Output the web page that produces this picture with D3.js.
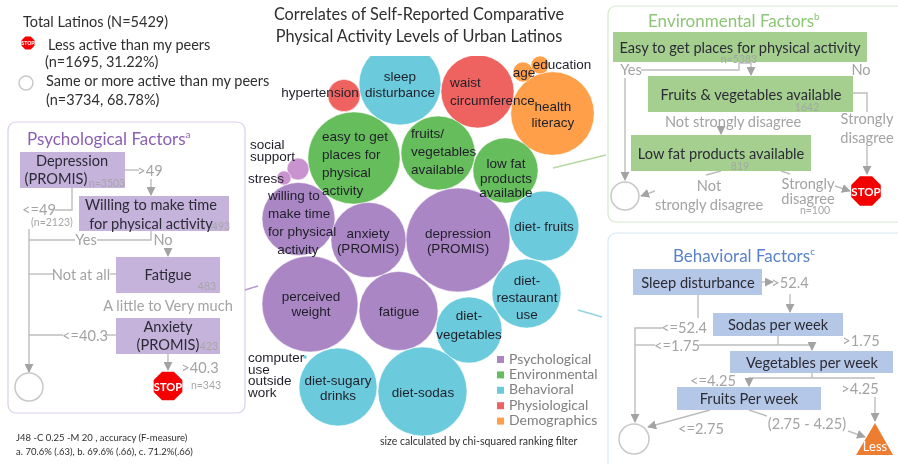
<!DOCTYPE html>
<html>
<head>
<meta charset="utf-8">
<script src="https://cdn.jsdelivr.net/npm/d3@7"></script>
<style>
  html, body { margin: 0; padding: 0; background: #fff; overflow: hidden; }
  svg { display: block; filter: blur(0.35px); }
  text { font-family: Lato, "Open Sans", sans-serif; }
  .bubble-label { font-family: "Liberation Sans", Arial, sans-serif; font-size: 13.5px; fill: #1f1f29; }
  .plain { fill: #2f2f2f; }
  .edge-label { fill: #a3a3a3; font-size: 14.6px; }
  .count { fill: #a6a6a6; font-size: 10.5px; }
  .box-label { fill: #2b2b35; font-size: 14.6px; }
</style>
</head>
<body>
<div id="chart"></div>
<script>
// Bubble values, size (chi-squared rank)
var bubbleNames = ['sleep disturbance', 'hypertension', 'waist circumference', 'health literacy', 'age', 'education',
  'easy to get places for physical activity', 'fruits/ vegetables available', 'low fat products available',
  'social support', 'stress', 'willing to make time for physical activity', 'anxiety (PROMIS)', 'depression (PROMIS)',
  'diet- fruits', 'perceived weight', 'fatigue', 'diet- vegetables', 'diet- restaurant use', 'diet-sugary drinks',
  'diet-sodas', 'computer use outside work']
var bubbleGroups = ['Behavioral', 'Physiological', 'Physiological', 'Demographics', 'Demographics', 'Demographics',
  'Environmental', 'Environmental', 'Environmental',
  'Social', 'Social', 'Psychological', 'Psychological', 'Psychological',
  'Behavioral', 'Psychological', 'Psychological', 'Behavioral', 'Behavioral', 'Behavioral',
  'Behavioral', 'Behavioral']
var bubbleValues = [168, 26, 133, 174, 10, 8, 212, 137, 106, 12, 5, 133, 141, 270, 122, 230, 156, 109, 119, 152, 198, 0.4]

var legendLabels = ['Psychological', 'Environmental', 'Behavioral', 'Physiological', 'Demographics']
var legendColors = ['#ab86c5', '#66bd5c', '#6bcbdc', '#ee635f', '#ff9f4a']

var titleLines = ['Correlates of Self-Reported Comparative', 'Physical Activity Levels of Urban Latinos']
var accuracyLines = ['J48  -C 0.25  -M 20 ,  accuracy (F-measure)', 'a. 70.6% (.63), b. 69.6% (.66), c. 71.2%(.66)']

// Bubble placement has no axis behind it, so it is read off the picture: [cx, cy]
var bubbleCentres = [[400, 84], [344, 95.5], [477.5, 91.5], [552.5, 113.5], [523, 72], [540, 65],
  [354, 158], [438, 153], [505.5, 170.5],
  [298, 169], [284, 178], [298.5, 219], [368.5, 240], [458, 240],
  [544, 226], [310, 304], [398.5, 311], [469, 330], [526.5, 293.5], [338, 387],
  [422.5, 391.5], [305, 357]]

// Label placement: lines, x, first baseline, step, anchor
var bubbleLabels = [
  { lines: ['sleep', 'disturbance'], x: 400, y: 81, step: 15.5 },
  { lines: ['hypertension'], x: 320, y: 97 },
  { lines: ['waist', 'circumference'], x: 450, y: 87, step: 18, anchor: 'start' },
  { lines: ['health', 'literacy'], x: 553, y: 111, step: 15.5 },
  { lines: ['age'], x: 524, y: 77 },
  { lines: ['education'], x: 562, y: 69 },
  { lines: ['easy to get', 'places for', 'physical', 'activity'], x: 322, y: 141, step: 18, anchor: 'start' },
  { lines: ['fruits/', 'vegetables', 'available'], x: 411, y: 138, step: 18, anchor: 'start' },
  { lines: ['low fat', 'products', 'available'], x: 506, y: 168, step: 14.5 },
  { lines: ['social', 'support'], x: 250, y: 149, step: 12, anchor: 'start' },
  { lines: ['stress'], x: 248, y: 183, anchor: 'start' },
  { lines: ['willing to', 'make time', 'for physical'], x: 268, y: 200, step: 18, anchor: 'start' },
  { lines: ['activity'], x: 298, y: 254 },
  { lines: ['anxiety', '(PROMIS)'], x: 368, y: 238, step: 15 },
  { lines: ['depression', '(PROMIS)'], x: 458, y: 238, step: 15 },
  { lines: ['diet- fruits'], x: 544, y: 231 },
  { lines: ['perceived', 'weight'], x: 311, y: 301, step: 15 },
  { lines: ['fatigue'], x: 399, y: 316 },
  { lines: ['diet-', 'vegetables'], x: 469, y: 320, step: 19 },
  { lines: ['diet-', 'restaurant', 'use'], x: 527, y: 285, step: 17 },
  { lines: ['diet-sugary', 'drinks'], x: 338, y: 385, step: 15 },
  { lines: ['diet-sodas'], x: 423, y: 397 },
  { lines: ['computer', 'use', 'outside', 'work'], x: 248, y: 362, step: 11.5, anchor: 'start' }
]

var groupColors = d3.scaleOrdinal()
  .domain(legendLabels.concat(['Social']))
  .range(legendColors.concat(['#c993d0']))

var radius = d3.scaleSqrt().domain([0, 1000]).range([0, 100])

// Decision trees
var panels = [
  { x: 8, y: 122, w: 237, h: 291, stroke: '#dccdea' },
  { x: 608, y: 6, w: 300, h: 216, stroke: '#d6e8cc' },
  { x: 608, y: 233, w: 300, h: 240, stroke: '#d6e9f5' }
]
var panelTitles = [
  { text: 'Psychological Factors', sup: 'a', x: 27, y: 145, fill: '#8a5fb5' },
  { text: 'Environmental Factors', sup: 'b', x: 648, y: 27, fill: '#8cc674' },
  { text: 'Behavioral Factors', sup: 'c', x: 673, y: 262, fill: '#5a82c8' }
]
var boxes = [
  { x: 20, y: 152, w: 105, h: 36, fill: '#c5b3dc', lines: ['Depression', '(PROMIS)'], tx: [72, 56], ty: [166, 184] },
  { x: 79, y: 196, w: 150, h: 35, fill: '#c5b3dc', lines: ['Willing to make time', 'for physical activity'], tx: [151, 151], ty: [210, 229] },
  { x: 116, y: 257, w: 104, h: 36, fill: '#c5b3dc', lines: ['Fatigue'], tx: [168], ty: [280] },
  { x: 116, y: 318, w: 104, h: 36, fill: '#c5b3dc', lines: ['Anxiety', '(PROMIS)'], tx: [168, 168], ty: [332, 350] },
  { x: 613, y: 32, w: 254, h: 30, fill: '#a5cf8f', lines: ['Easy to get places for physical activity'], tx: [740], ty: [53] },
  { x: 648, y: 76, w: 205, h: 36, fill: '#a5cf8f', lines: ['Fruits & vegetables available'], tx: [751], ty: [100] },
  { x: 631, y: 135, w: 180, h: 36, fill: '#a5cf8f', lines: ['Low fat products available'], tx: [721], ty: [159] },
  { x: 633, y: 269, w: 129, h: 26, fill: '#b4c7e7', lines: ['Sleep disturbance'], tx: [698], ty: [288] },
  { x: 713, y: 313, w: 130, h: 23, fill: '#b4c7e7', lines: ['Sodas per week'], tx: [778], ty: [330] },
  { x: 730, y: 351, w: 163, h: 22, fill: '#b4c7e7', lines: ['Vegetables per week'], tx: [812], ty: [368] },
  { x: 677, y: 387, w: 144, h: 23, fill: '#b4c7e7', lines: ['Fruits Per week'], tx: [749], ty: [404] }
]
var counts = [
  ['n=3503', 107, 187], ['493', 221, 230], ['(n=2123)', 52, 226], ['483', 207, 290], ['423', 209, 350], ['n=343', 206, 389],
  ['n=5383', 739, 63], ['1642', 807, 111], ['819', 740, 170], ['n=100', 815, 214]
]
var edgeLabels = [
  ['>49', 150, 176], ['<=49', 39, 215], ['Yes', 86, 245], ['No', 163, 245], ['Not at all', 81, 280],
  ['A little to Very much', 168, 311], ['<=40.3', 85, 341], ['>40.3', 200, 373],
  ['Yes', 631, 75], ['No', 861, 75], ['Not strongly disagree', 733, 127], ['Strongly', 867, 124], ['disagree', 867, 143],
  ['Not', 709, 191], ['strongly disagree', 709, 210], ['Strongly', 808, 189], ['disagree', 808, 204],
  ['>52.4', 790, 288], ['<=52.4', 684, 333], ['>1.75', 861, 346], ['<=1.75', 677, 351], ['<=4.25', 713, 386],
  ['>4.25', 860, 394], ['<=2.75', 701, 434], ['(2.75 -  4.25)', 807, 429]
]
var edges = [
  { path: [[125, 170], [139, 170]] },
  { path: [[151, 179], [151, 195]], arrow: true },
  { path: [[72, 188], [72, 210], [55, 210]] },
  { path: [[29, 229], [29, 372]], arrow: true },
  { path: [[29, 240], [75, 240]] },
  { path: [[97, 240], [151, 240], [151, 231]] },
  { path: [[168, 250], [168, 256]], arrow: true },
  { path: [[29, 274], [53, 274]] },
  { path: [[110, 274], [116, 274]] },
  { path: [[29, 335], [63, 335]] },
  { path: [[106, 335], [116, 335]] },
  { path: [[168, 354], [168, 370]], arrow: true },
  { path: [[641, 70], [739, 70], [739, 63], [751, 63], [751, 75]], arrow: true },
  { path: [[625, 78], [625, 180]], arrow: true },
  { path: [[853, 93], [867, 93], [867, 112]] },
  { path: [[867, 146], [867, 174]], arrow: true },
  { path: [[721, 130], [721, 134]], arrow: true },
  { path: [[721, 171], [706, 175]] },
  { path: [[655, 191], [641, 196]], arrow: true },
  { path: [[781, 171], [790, 174]] },
  { path: [[835, 186], [850, 191]], arrow: true },
  { path: [[762, 282], [773, 282]], arrow: true },
  { path: [[790, 294], [790, 312]], arrow: true },
  { path: [[698, 295], [698, 318]] },
  { path: [[662, 328], [635, 328], [635, 422]], arrow: true },
  { path: [[635, 345], [655, 345]] },
  { path: [[699, 345], [812, 345], [812, 350]], arrow: true },
  { path: [[778, 336], [778, 345]] },
  { path: [[812, 373], [812, 378]] },
  { path: [[875, 378], [749, 378], [749, 386]], arrow: true },
  { path: [[875, 397], [875, 421]], arrow: true },
  { path: [[710, 410], [648, 427]], arrow: true },
  { path: [[749, 410], [767, 416]] },
  { path: [[848, 431], [865, 437]], arrow: true }
]
var leafCircles = [[29, 387, 14], [625, 196, 14], [634, 439, 15], [26, 83, 7]]
var stopSigns = [[168, 386, 15.5], [866, 191, 16], [28, 43, 7]]
var stubs = [
  { path: [[553, 168], [606, 155]], stroke: '#b5d9a3' },
  { path: [[245, 290], [258, 286]], stroke: '#b79ad0' },
  { path: [[578, 310], [602, 317]], stroke: '#8fd6e2' }
]

var headerLines = [
  { text: 'Total Latinos (N=5429)', x: 23, y: 27 },
  { text: 'Less active than my peers', x: 48, y: 50 },
  { text: '(n=1695, 31.22%)', x: 45, y: 67 },
  { text: 'Same or more active than my peers', x: 46, y: 86 },
  { text: '(n=3734, 68.78%)', x: 46, y: 105 }
]

var width = 898
var height = 464
var line = d3.line()

var svg = d3.select('#chart').append('svg')
  .attr('width', width)
  .attr('height', height)

svg.append('defs').append('marker')
  .attr('id', 'arrow')
  .attr('viewBox', '0 0 10 10')
  .attr('refX', 9)
  .attr('refY', 5)
  .attr('markerUnits', 'userSpaceOnUse')
  .attr('markerWidth', 9)
  .attr('markerHeight', 9)
  .attr('orient', 'auto')
  .append('path')
  .attr('d', 'M0,0L10,5L0,10Z')
  .attr('fill', '#a3a3a3')

// Bubbles
var bubbles = bubbleNames.map(function (d, i) {
  return { name: d, group: bubbleGroups[i], value: bubbleValues[i], cx: bubbleCentres[i][0], cy: bubbleCentres[i][1] }
})

svg.append('g').selectAll('circle')
  .data(bubbles)
  .enter().append('circle')
  .attr('cx', function (d) { return d.cx })
  .attr('cy', function (d) { return d.cy })
  .attr('r', function (d) { return radius(d.value) })
  .attr('fill', function (d) { return groupColors(d.group) })
  .attr('stroke', '#fff')
  .attr('stroke-width', 0.5)

// The title box sits over the top of the sleep bubble
svg.append('rect')
  .attr('x', 270).attr('y', 0)
  .attr('width', 300).attr('height', 56)
  .attr('fill', '#fff')

svg.append('g').selectAll('text')
  .data(bubbleLabels)
  .enter().append('text')
  .attr('class', 'bubble-label')
  .attr('text-anchor', function (d) { return d.anchor || 'middle' })
  .each(function (d) {
    d3.select(this).selectAll('tspan')
      .data(d.lines)
      .enter().append('tspan')
      .attr('x', d.x)
      .attr('y', function (l, i) { return d.y + i * (d.step || 0) })
      .text(function (l) { return l })
  })

// Legend
var legend = svg.append('g').selectAll('g')
  .data(legendLabels)
  .enter().append('g')
  .attr('transform', function (d, i) { return 'translate(497,' + (356 + i * 15.4) + ')' })

legend.append('rect')
  .attr('width', 7).attr('height', 7)
  .attr('fill', function (d, i) { return legendColors[i] })

legend.append('text')
  .attr('x', 12).attr('y', 7.5)
  .attr('fill', '#7f7f7f')
  .attr('font-size', 14)
  .text(function (d) { return d })

svg.append('text')
  .attr('x', 380).attr('y', 445)
  .attr('class', 'plain')
  .attr('font-size', 10.5)
  .text('size calculated by chi-squared ranking filter')

// Title and header
svg.append('g').selectAll('text')
  .data(titleLines)
  .enter().append('text')
  .attr('class', 'plain')
  .attr('x', 419)
  .attr('y', function (d, i) { return 20 + i * 22 })
  .attr('text-anchor', 'middle')
  .attr('font-size', 16.3)
  .text(function (d) { return d })

svg.append('g').selectAll('text')
  .data(headerLines)
  .enter().append('text')
  .attr('class', 'plain')
  .attr('x', function (d) { return d.x })
  .attr('y', function (d) { return d.y })
  .attr('font-size', 14.5)
  .text(function (d) { return d.text })

svg.append('g').selectAll('text')
  .data(accuracyLines)
  .enter().append('text')
  .attr('class', 'plain')
  .attr('x', 16)
  .attr('y', function (d, i) { return 441 + i * 14 })
  .attr('font-size', 9.5)
  .text(function (d) { return d })

// Panels
svg.append('g').selectAll('rect')
  .data(panels)
  .enter().append('rect')
  .attr('x', function (d) { return d.x })
  .attr('y', function (d) { return d.y })
  .attr('width', function (d) { return d.w })
  .attr('height', function (d) { return d.h })
  .attr('rx', 8)
  .attr('fill', 'none')
  .attr('stroke', function (d) { return d.stroke })
  .attr('stroke-width', 1.2)

var panelTitle = svg.append('g').selectAll('text')
  .data(panelTitles)
  .enter().append('text')
  .attr('x', function (d) { return d.x })
  .attr('y', function (d) { return d.y })
  .attr('fill', function (d) { return d.fill })
  .attr('font-size', 17)
  .text(function (d) { return d.text })

panelTitle.append('tspan')
  .attr('dy', -7)
  .attr('font-size', 10)
  .text(function (d) { return d.sup })

// Stubs that tie the bubbles to the panels
svg.append('g').selectAll('path')
  .data(stubs)
  .enter().append('path')
  .attr('d', function (d) { return line(d.path) })
  .attr('fill', 'none')
  .attr('stroke', function (d) { return d.stroke })
  .attr('stroke-width', 1.5)

// Tree edges, then boxes over them
svg.append('g').selectAll('path')
  .data(edges)
  .enter().append('path')
  .attr('d', function (d) { return line(d.path) })
  .attr('fill', 'none')
  .attr('stroke', '#bdbdbd')
  .attr('stroke-width', 1.4)
  .attr('marker-end', function (d) { return d.arrow ? 'url(#arrow)' : null })

var box = svg.append('g').selectAll('g')
  .data(boxes)
  .enter().append('g')

box.append('rect')
  .attr('x', function (d) { return d.x })
  .attr('y', function (d) { return d.y })
  .attr('width', function (d) { return d.w })
  .attr('height', function (d) { return d.h })
  .attr('fill', function (d) { return d.fill })

box.each(function (d) {
  d3.select(this).selectAll('text')
    .data(d.lines)
    .enter().append('text')
    .attr('class', 'box-label')
    .attr('x', function (l, i) { return d.tx[i] })
    .attr('y', function (l, i) { return d.ty[i] })
    .attr('text-anchor', 'middle')
    .text(function (l) { return l })
})

svg.append('g').selectAll('text')
  .data(edgeLabels)
  .enter().append('text')
  .attr('class', 'edge-label')
  .attr('x', function (d) { return d[1] })
  .attr('y', function (d) { return d[2] })
  .attr('text-anchor', 'middle')
  .text(function (d) { return d[0] })

svg.append('g').selectAll('text')
  .data(counts)
  .enter().append('text')
  .attr('class', 'count')
  .attr('x', function (d) { return d[1] })
  .attr('y', function (d) { return d[2] })
  .attr('text-anchor', 'middle')
  .text(function (d) { return d[0] })

// Tree leaves
svg.append('g').selectAll('circle')
  .data(leafCircles)
  .enter().append('circle')
  .attr('cx', function (d) { return d[0] })
  .attr('cy', function (d) { return d[1] })
  .attr('r', function (d) { return d[2] })
  .attr('fill', '#fff')
  .attr('stroke', '#c9c9c9')
  .attr('stroke-width', 1.5)

var stop = svg.append('g').selectAll('g')
  .data(stopSigns)
  .enter().append('g')
  .attr('transform', function (d) { return 'translate(' + d[0] + ',' + d[1] + ')' })

stop.append('path')
  .attr('d', function (d) {
    var pts = d3.range(8).map(function (i) {
      var a = Math.PI / 8 + i * Math.PI / 4
      return [d[2] * Math.cos(a), d[2] * Math.sin(a)]
    })
    return line(pts) + 'Z'
  })
  .attr('fill', '#f50000')

stop.append('text')
  .attr('text-anchor', 'middle')
  .attr('y', function (d) { return d[2] * 0.3 })
  .attr('fill', '#fff')
  .attr('font-weight', 'bold')
  .attr('font-size', function (d) { return d[2] * 0.72 })
  .text('STOP')

// Less triangle
svg.append('path')
  .attr('d', line([[875, 423], [856, 455], [893, 455]]) + 'Z')
  .attr('fill', '#ed7d31')

svg.append('text')
  .attr('x', 875).attr('y', 451)
  .attr('text-anchor', 'middle')
  .attr('fill', '#fff')
  .attr('font-size', 13)
  .text('Less')
</script>
</body>
</html>
